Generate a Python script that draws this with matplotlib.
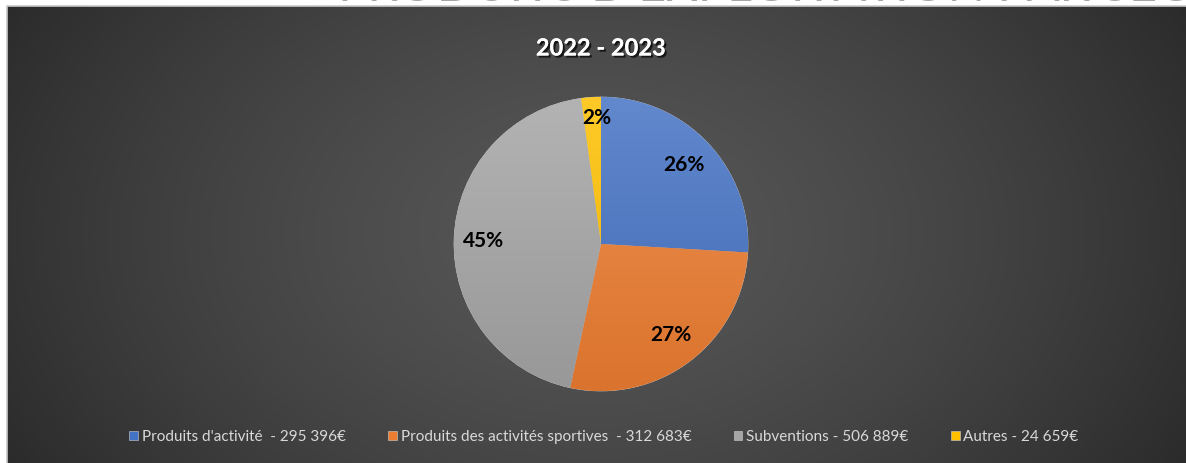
import numpy as np
import matplotlib
matplotlib.use('Agg')
import matplotlib.pyplot as plt
import matplotlib.patheffects as pe
from matplotlib.colors import to_rgb

plt.rcParams['font.family'] = ['Lato', 'DejaVu Sans']

# Données
categories = ["Produits d'activité ", "Produits des activités sportives ", "Subventions", "Autres"]
montants = [295396, 312683, 506889, 24659]
pourcentages = ["26%", "27%", "45%", "2%"]
couleurs = ['#4472C4', '#ED7D31', '#A5A5A5', '#FFC000']
titre = "2022 - 2023"
titre_haut = "PRODUITS D'EXPLOITATION PAR SECTEUR"


def euros(v):
    return f"{v:,}".replace(",", " ") + "€"


etiquettes = [f"{c} - {euros(v)}" for c, v in zip(categories, montants)]

W, H = 1186, 463
fig = plt.figure(figsize=(W / 100, H / 100), dpi=100)
fig.patch.set_facecolor('white')

# Fond sombre avec dégradé radial
bg = fig.add_axes([7 / W, 0, 1 - 7 / W, (H - 6) / H])
bg.set_axis_off()
yy, xx = np.mgrid[0:1:300j, 0:1:700j]
d = np.sqrt(((xx - 0.5) / 0.62) ** 2 + ((yy - 0.5) / 1.1) ** 2)
d = np.clip(d, 0, 1)
fond = (0.34 - 0.19 * d ** 1.4)[..., None] * np.ones(3)
bg.imshow(fond, extent=(0, 1, 0, 1), aspect='auto', origin='lower')
bg.plot([0, 0, 1], [0, 1, 1], color='#c8c8c8', lw=1.2, transform=bg.transAxes, clip_on=False)
bg.set_xlim(0, 1)
bg.set_ylim(0, 1)

# Titre principal coupé en haut (comme dans l'original)
fig.text(338 / W, 1 - 1 / H, titre_haut, ha='left', va='baseline', fontsize=35,
         color='#a6a6a6')

# Sous-titre
fig.text(601 / W, 1 - 48 / H, titre, ha='center', va='center', fontsize=17,
         fontweight='bold', color='white',
         path_effects=[pe.withSimplePatchShadow(offset=(1.5, -1.5), shadow_rgbFace='black', alpha=0.7),
                       pe.Normal()])

# Camembert
cx, cy, r = 601, 244, 148.5
ax = fig.add_axes([(cx - r) / W, (H - cy - r) / H, 2 * r / W, 2 * r / H])
ax.set_axis_off()
wedges, _ = ax.pie(montants, colors=couleurs, startangle=90, counterclock=False, radius=1,
                   wedgeprops=dict(edgecolor='#d0d0d0', linewidth=0.4))

# Dégradé vertical dans chaque part
gy = np.linspace(1, 0, 200)[:, None]
for w, c in zip(wedges, couleurs):
    base = np.array(to_rgb(c))
    clair = base + (1 - base) * 0.16
    fonce = base * 0.92
    img = fonce[None, None, :] + (clair - fonce)[None, None, :] * gy[..., None]
    img = np.repeat(img, 2, axis=1)
    im = ax.imshow(img, extent=(-1, 1, -1, 1), aspect='auto', zorder=w.get_zorder() + 0.1)
    im.set_clip_path(w)

# Étiquettes de pourcentage
dist = [0.78, 0.78, 0.8, 0.86]
for w, p, rr in zip(wedges, pourcentages, dist):
    a = np.deg2rad((w.theta1 + w.theta2) / 2)
    x, y = rr * np.cos(a), rr * np.sin(a)
    if p == "45%":
        y = 0.02
    if p == "2%":
        x = -0.03
    ax.text(x, y, p, ha='center', va='center', fontsize=15, fontweight='bold',
            color='black', zorder=5)
ax.set_xlim(-1.01, 1.01)
ax.set_ylim(-1.01, 1.01)

# Légende
leg = fig.legend(wedges, etiquettes, loc='center', bbox_to_anchor=(604 / W, 1 - 437 / H),
                 ncol=4, frameon=False, fontsize=11, handlelength=0.55, handleheight=0.55,
                 handletextpad=0.25, columnspacing=2.8, labelcolor='#d9d9d9')

fig.savefig('out.png', dpi=100, facecolor=fig.get_facecolor())
